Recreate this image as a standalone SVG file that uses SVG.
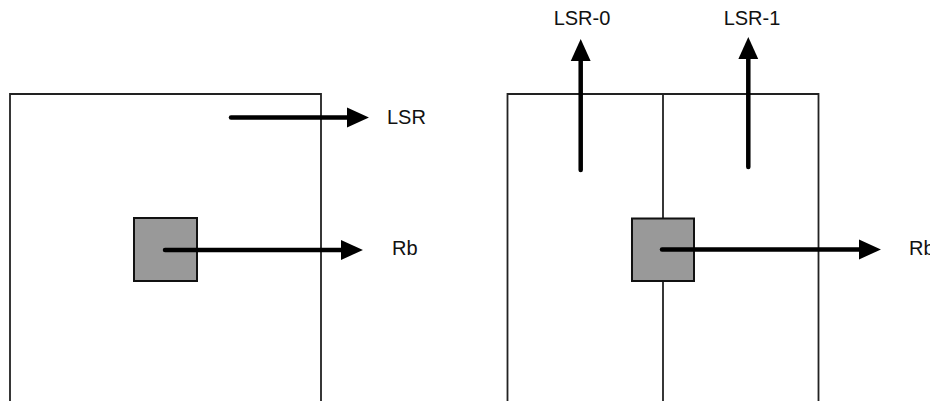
<svg xmlns="http://www.w3.org/2000/svg" width="930" height="401" viewBox="0 0 930 401">
<defs>
<style>
.frame{fill:none;stroke:#222;stroke-width:1.8}
.chip{fill:#999;stroke:#111;stroke-width:2}
.arrow{fill:none;stroke:#000;stroke-width:4.5;stroke-linecap:round;marker-end:url(#ah)}
.lbl{font-family:"Liberation Sans",Arial,sans-serif;font-size:20px;fill:#111}
</style>
<marker id="ah" markerUnits="userSpaceOnUse" markerWidth="22" markerHeight="22" viewBox="0 -10 21 20" refX="1" refY="0" orient="auto">
<path d="M0,-9.5 L21,0 L0,9.5 Z" fill="#000"/>
</marker>
</defs>
<rect width="930" height="401" fill="#fff"/>
<g id="left-region">
<path class="frame" d="M10,405 V94 H321 V405"/>
</g>
<g id="left-block">
<rect class="chip" x="134" y="218" width="63" height="63"/>
</g>
<g id="right-region">
<path class="frame" d="M507.5,405 V94 H818.5 V405"/>
<path class="frame" d="M663,94 V218 M663,281 V405"/>
</g>
<g id="right-block">
<rect class="chip" x="632" y="218.5" width="62" height="62.5"/>
</g>
<g id="connectors">
<line class="arrow" x1="231" y1="117.5" x2="348" y2="117.5"/>
<line class="arrow" x1="165" y1="250" x2="342" y2="250"/>
<line class="arrow" x1="580.7" y1="170" x2="580.7" y2="60"/>
<line class="arrow" x1="748.3" y1="167" x2="748.3" y2="58"/>
<line class="arrow" x1="662" y1="249.5" x2="860" y2="249.5"/>
</g>
<g id="labels">
<text class="lbl" x="387" y="124">LSR</text>
<text class="lbl" x="392" y="255">Rb</text>
<text class="lbl" x="582" y="25" text-anchor="middle">LSR-0</text>
<text class="lbl" x="752" y="25" text-anchor="middle">LSR-1</text>
<text class="lbl" x="909" y="255">Rb</text>
</g>
</svg>
